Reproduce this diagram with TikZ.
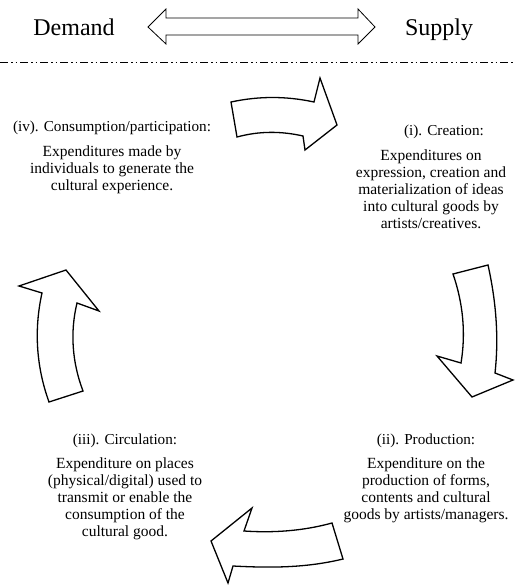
\documentclass[tikz,border=0pt]{standalone}
\usepackage{fontspec}
\setmainfont{Liberation Serif}
\usetikzlibrary{positioning}
\tikzset{
  cyclearrow/.style={draw=black, line width=1.3pt, line join=miter, fill=white},
  headlabel/.style={font=\fontsize{24}{27}\selectfont, inner sep=0pt, anchor=base},
  stagetitle/.style={font=\fontsize{15.2}{17}\selectfont, inner sep=0pt, anchor=base},
  stagebody/.style={font=\fontsize{15.5}{17}\selectfont, align=center, inner sep=0pt},
}

\begin{document}
\begin{tikzpicture}[x=1pt, y=-1pt, node distance=11pt]
        \useasboundingbox (0,0) rectangle (515,585);
        % Demand / supply header
        \node[headlabel] (demand) at (74,36) {Demand};
        \node[headlabel] (supply) at (439,36) {Supply};
        \draw[line width=0.8pt, line join=miter, fill=white]
          (148,27) -- (166,9) -- (166,18) -- (358,18) -- (358,9)
          -- (375,27) -- (358,44) -- (358,35) -- (166,35) -- (166,44) -- cycle;
        % Separator line
        \draw[line width=0.7pt,
          dash pattern=on 8pt off 3pt on 1.5pt off 3pt on 1.5pt off 3pt]
          (0,62) -- (515,62);
        % Stage (iv), top left
        \node[stagetitle] (consume) at (112,132)
          {(iv). Consumption/participation:};
        \node[stagebody, below=of consume.base, yshift=-3pt] (consumetxt)
          {Expenditures made by\\individuals to generate the\\cultural experience.};
        % Stage (i), top right
        \node[stagetitle] (create) at (444,136) {(i). Creation:};
        \node[stagebody, below=of create.base, yshift=-3pt, xshift=-13pt] (createtxt)
          {Expenditures on\\expression, creation and\\materialization of ideas\\into cultural goods by\\artists/creatives.};
        % Stage (iii), bottom left
        \node[stagetitle] (circulate) at (125,444) {(iii). Circulation:};
        \node[stagebody, below=of circulate.base, yshift=-3pt] (circulatetxt)
          {Expenditure on places\\(physical/digital) used to\\transmit or enable the\\consumption of the\\cultural good.};
        % Stage (ii), bottom right
        \node[stagetitle] (produce) at (426,444) {(ii). Production:};
        \node[stagebody, below=of produce.base, yshift=-3pt] (producetxt)
          {Expenditure on the\\production of forms,\\contents and cultural\\goods by artists/managers.};
        % Cycle arrows, clockwise
        \draw[cyclearrow] (231,102) .. controls (259,96) and (286,96) .. (314,102)
          -- (320,78) -- (337,125) -- (305,150) -- (303,136)
          .. controls (281,131) and (259,131) .. (237,137) -- cycle;
        \draw[cyclearrow] (453,274) -- (488,265)
          .. controls (496,301) and (499,337) .. (495,373)
          -- (513,380) -- (472,397) -- (437,356) -- (461,363)
          .. controls (466,333) and (463,303) .. (453,274) -- cycle;
        \draw[cyclearrow] (332,523) .. controls (303,531) and (273,533) .. (244,531)
          -- (252,508) -- (211,541) -- (228,583) -- (233,566)
          .. controls (270,568) and (306,568) .. (343,559) -- cycle;
        \draw[cyclearrow] (49,402) .. controls (36,366) and (34,329) .. (42,293)
          -- (19,286) -- (66,270) -- (99,311) -- (77,303)
          .. controls (70,332) and (72,362) .. (83,391) -- cycle;
\end{tikzpicture}
\end{document}
